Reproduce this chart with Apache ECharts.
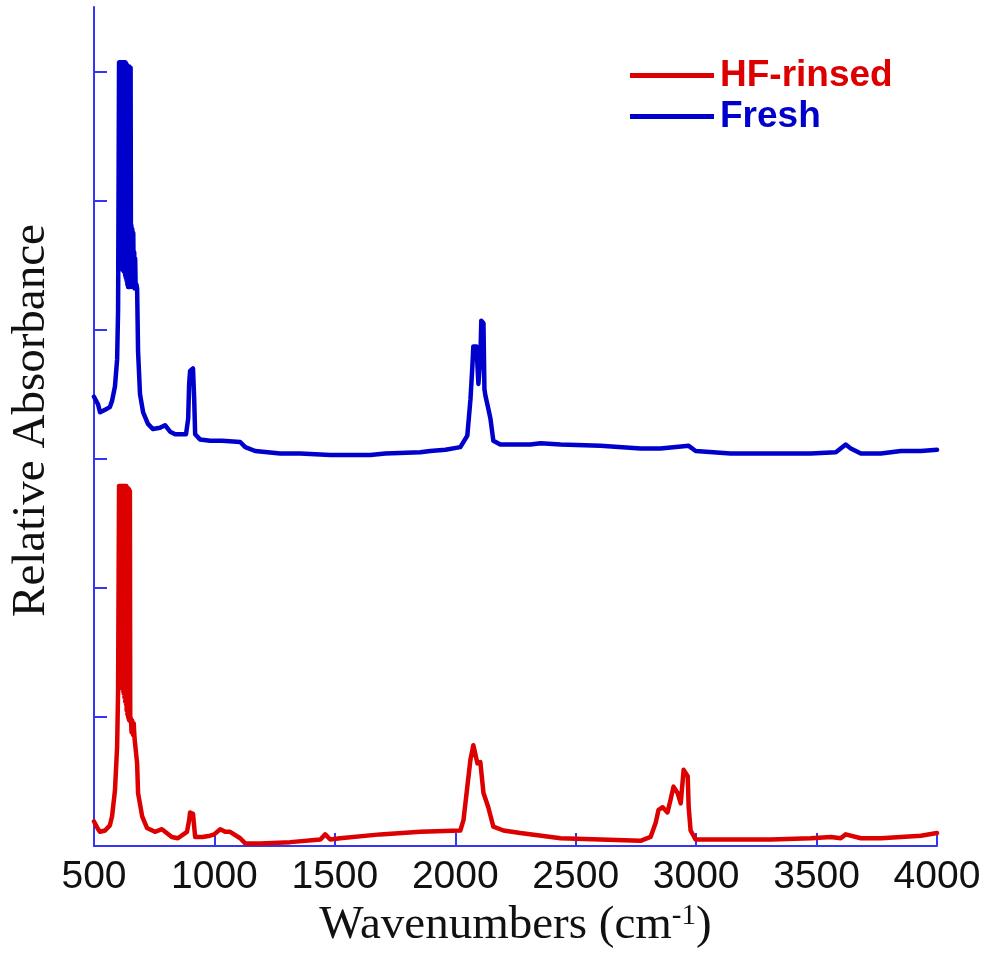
<!DOCTYPE html>
<html>
<head>
<meta charset="utf-8">
<script src="https://cdn.jsdelivr.net/npm/echarts@6/dist/echarts.min.js"></script>
<style>html,body{margin:0;padding:0;background:#fff}#c{width:989px;height:965px}</style>
</head>
<body>
<div id="c"></div>
<script>
// Wavenumbers (cm-1) and relative absorbance (arbitrary units, offset traces)
const freshWn = [500,508,517,525,546,566,575,587,596,600,
  604,605.5,607,608.5,610,611.5,613,614.5,616,617.5,619,620.5,622,623.5,625,626.5,628,629.5,631,632.5,634,635.5,637,638.5,640,641.5,643,644.5,646,647.5,649,650.5,652,653.5,
  655,657,659,661,663,665,667,669,671,673,676,679,683,691,704,724,745,774,795,816,837,882,891,895,899,911,916,920,940,982,1032,1107,1128,1169,1273,1356,1481,1647,1709,1855,1896,1959,2021,2050,2063,2071,2075,2088,2096,2104,2108,2117,2121,2125,2137,2146,2158,2187,2312,2354,2437,2603,2769,2852,2969,2998,3143,3309,3476,3580,3621,3642,3684,3767,3850,3933,4000];
const freshAbs = [3.48,3.49,3.42,3.36,3.38,3.40,3.45,3.56,3.77,4.15,
  6.07,4.50,6.07,4.48,6.07,4.47,6.07,4.47,6.07,4.47,6.07,4.46,6.07,4.45,6.07,4.45,6.07,4.42,6.07,4.40,6.06,4.38,6.05,4.35,6.04,4.33,6.04,4.33,6.04,4.33,6.03,4.35,6.03,4.40,
  4.81,4.33,4.78,4.35,4.75,4.35,4.60,4.32,4.55,4.32,4.35,4.32,3.83,3.50,3.36,3.27,3.23,3.24,3.26,3.21,3.19,3.19,3.31,3.58,3.68,3.70,3.46,3.19,3.15,3.14,3.14,3.13,3.09,3.06,3.04,3.04,3.03,3.03,3.04,3.05,3.06,3.07,3.09,3.18,3.46,3.72,3.87,3.87,3.58,3.77,4.07,4.05,3.54,3.49,3.39,3.31,3.14,3.11,3.11,3.12,3.11,3.10,3.08,3.08,3.10,3.06,3.04,3.04,3.04,3.05,3.11,3.08,3.04,3.04,3.06,3.06,3.07];

const rinsedWn = [500,508,517,525,546,566,575,587,596,600,
  604,605.5,607,608.5,610,611.5,613,614.5,616,617.5,619,620.5,622,623.5,625,626.5,628,629.5,631,632.5,634,635.5,637,638.5,640,641.5,643,644.5,646,647.5,649,650.5,
  653,656,659,662,665,668,671,679,683,700,720,753,782,823,848,886,895,899,911,920,950,982,999,1024,1045,1065,1107,1128,1190,1315,1440,1460,1481,1522,1688,1855,2021,2034,2050,2063,2075,2092,2104,2117,2137,2158,2200,2270,2437,2603,2769,2811,2832,2844,2861,2881,2894,2906,2923,2936,2948,2965,2969,2977,2998,3100,3310,3476,3560,3600,3621,3684,3767,3850,3933,4000];
const rinsedAbs = [0.19,0.19,0.13,0.11,0.12,0.16,0.23,0.43,0.77,1.20,
  2.79,1.25,2.79,1.24,2.79,1.23,2.79,1.23,2.79,1.22,2.79,1.20,2.79,1.18,2.79,1.15,2.79,1.12,2.79,1.10,2.79,1.05,2.78,1.02,2.77,1.00,2.77,0.98,2.76,0.97,2.75,0.97,
  0.99,0.88,0.97,0.86,0.95,0.84,0.85,0.64,0.41,0.23,0.14,0.11,0.13,0.07,0.06,0.11,0.20,0.26,0.25,0.07,0.07,0.08,0.09,0.13,0.11,0.11,0.06,0.02,0.02,0.03,0.05,0.09,0.05,0.06,0.09,0.11,0.12,0.20,0.46,0.67,0.78,0.64,0.65,0.41,0.30,0.15,0.12,0.10,0.06,0.05,0.04,0.07,0.18,0.28,0.30,0.26,0.36,0.46,0.41,0.33,0.59,0.54,0.30,0.12,0.05,0.05,0.05,0.06,0.07,0.06,0.09,0.06,0.06,0.07,0.08,0.10];

const seriesNames = ['HF-rinsed', 'Fresh'];
const xTicks = [500,1000,1500,2000,2500,3000,3500,4000];
const yTicks = [1,2,3,4,5,6];

function zip(a, b) { return a.map((v, i) => [v, b[i]]); }

const RED = '#dd0000', BLUE = '#0000cc', AXIS = '#3535f5';
const chart = echarts.init(document.getElementById('c'), null, {renderer: 'canvas'});
chart.setOption({
  animation: false,
  backgroundColor: '#ffffff',
  grid: {left: 94, right: 52, top: 7, bottom: 119, containLabel: false},
  legend: {
    left: 625, top: 52, orient: 'vertical', icon: 'rect',
    itemWidth: 84, itemHeight: 5, itemGap: 4,
    textStyle: {fontFamily: 'Liberation Sans', fontWeight: 'bold', fontSize: 37, padding: [0,0,0,1]},
    data: [
      {name: seriesNames[0], textStyle: {color: RED}},
      {name: seriesNames[1], textStyle: {color: BLUE}}
    ]
  },
  xAxis: {
    type: 'value', min: 500, max: 4000, interval: 500,
    name: 'Wavenumbers (cm{sup|-1})', nameLocation: 'middle', nameGap: 52,
    nameTextStyle: {
      fontFamily: 'Liberation Serif', fontSize: 47, color: '#111',
      rich: {sup: {fontFamily: 'Liberation Serif', fontSize: 29, verticalAlign: 'top', color: '#111'}}
    },
    axisLine: {show: true, lineStyle: {color: AXIS, width: 2}},
    axisTick: {show: true, inside: true, length: 13, lineStyle: {color: AXIS, width: 2}, customValues: xTicks},
    axisLabel: {fontFamily: 'Liberation Sans', fontSize: 39, color: '#111', margin: 12, customValues: xTicks,
      formatter: v => String(v)},
    splitLine: {show: false}
  },
  yAxis: {
    type: 'value', min: 0, max: 6.5, interval: 1,
    name: 'Relative Absorbance', nameLocation: 'middle', nameGap: 39,
    nameTextStyle: {fontFamily: 'Liberation Serif', fontSize: 47, color: '#111', padding: [0, 0, 0, 12]},
    axisLine: {show: true, lineStyle: {color: AXIS, width: 2}},
    axisTick: {show: true, inside: true, length: 13, lineStyle: {color: AXIS, width: 2}, customValues: yTicks},
    axisLabel: {show: false},
    splitLine: {show: false}
  },
  series: [
    {name: seriesNames[0], type: 'line', data: zip(rinsedWn, rinsedAbs), showSymbol: false, symbol: 'none',
     lineStyle: {color: RED, width: 4.5, join: 'round', cap: 'round'}, itemStyle: {color: RED}, z: 3},
    {name: seriesNames[1], type: 'line', data: zip(freshWn, freshAbs), showSymbol: false, symbol: 'none',
     lineStyle: {color: BLUE, width: 4.5, join: 'round', cap: 'round'}, itemStyle: {color: BLUE}, z: 3}
  ]
});
</script>
</body>
</html>
